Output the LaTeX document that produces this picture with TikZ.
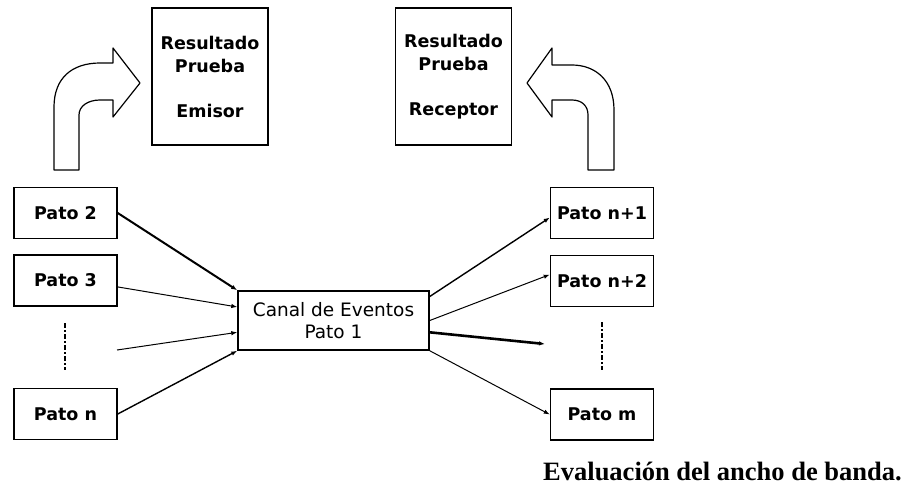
\documentclass[tikz,border=0pt]{standalone}
\usepackage{fontspec}
\setsansfont{DejaVu Sans}
\newfontfamily\captionfont{Liberation Serif}
\usepackage{tikz}
\usetikzlibrary{arrows.meta}

\tikzset{
  box/.style={draw, line width=1.5pt, inner sep=0pt, align=center,
    font=\sffamily\bfseries\fontsize{17.5}{23}\selectfont},
  pato/.style={box, minimum width=103pt, minimum height=51pt},
  result/.style={box, minimum width=116pt, minimum height=137pt},
  bent/.style={draw, line width=1.2pt, line join=round},
  link/.style={->, line width=1pt},
  heavy/.style={->, line width=2pt},
  dots/.style={line width=2.4pt, dash pattern=on 5pt off 2pt on 2pt off 2pt}
}

\begin{document}
\begin{tikzpicture}[>={Latex[length=6pt,width=4.5pt]}, x=1pt, y=-1pt]

    \useasboundingbox (0,0) rectangle (909,485);

    % result boxes
    \node[result] (emisor) at (210,76.5) {Resultado\\Prueba\\[22pt]Emisor};
    \node[result] (receptor) at (453.5,76.5) {Resultado\\Prueba\\[22pt]Receptor};

    % bent arrows
    \draw[bent] (54,170) -- (54,107) .. controls (54,78) and (72,63) .. (100,63)
        -- (113,63) -- (113,48) -- (140,83) -- (113,117) -- (113,100) -- (100,100)
        .. controls (88,100) and (79,106) .. (79,115) -- (79,170) -- cycle;
    \draw[bent] (614,170) -- (614,110) .. controls (614,80) and (595,65) .. (572,65)
        -- (552,65) -- (552,48) -- (527,83) -- (552,117) -- (552,100) -- (572,100)
        .. controls (582,100) and (588,106) .. (588,115) -- (588,170) -- cycle;

    % senders
    \foreach \n/\y/\t in {p2/213/Pato 2, p3/280.5/Pato 3, pn/414/Pato n} {
        \node[pato] (\n) at (65.5,\y) {\t};
    }
    \draw[dots] (65,323) -- (65,370);

    % receivers
    \foreach \n/\y/\t in {pn1/213/Pato n+1, pn2/281/Pato n+2, pm/414.5/Pato m} {
        \node[pato] (\n) at (602,\y) {\t};
    }
    \draw[dots] (602,322) -- (602,370);

    % channel
    \node[box, minimum width=191pt, minimum height=59pt, font=\sffamily\fontsize{18.5}{22}\selectfont]
        (canal) at (333.5,320.5) {Canal de Eventos\\Pato 1};

    % free ends
    \coordinate (gapL) at (117,350);
    \coordinate (gapR) at (545,344);

    % incoming
    \draw[heavy] (p2.east) -- (canal.north west);
    \draw[link] (p3.-7) -- (canal.172);
    \draw[link] (gapL) -- (canal.187);
    \draw[link, line width=1.4pt] (pn.east) -- (canal.south west);

    % outgoing
    \draw[link, line width=1.4pt] (canal.14) -- (pn1.185);
    \draw[link] (canal.east) -- (pn2.173);
    \draw[heavy, line width=2.6pt] (canal.-7.5) -- (gapR);
    \draw[link] (canal.south east) -- (pm.west);

    % caption
    \node[anchor=base west, inner sep=0pt, font=\captionfont\bfseries\fontsize{26.5}{30}\selectfont]
        (caption) at (543,480) {Evaluación del ancho de banda.};

\end{tikzpicture}
\end{document}
